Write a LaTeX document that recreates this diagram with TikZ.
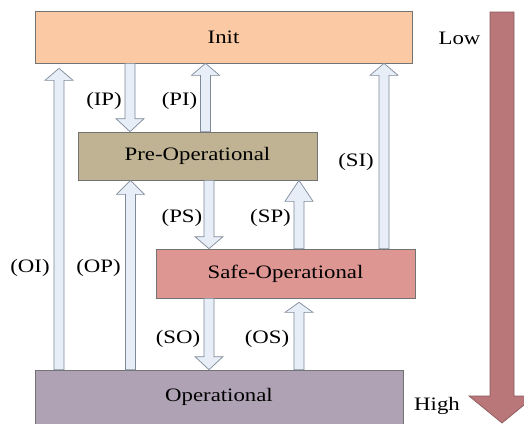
\documentclass[tikz,border=0pt]{standalone}
\usepackage{fontspec}
\setmainfont{Liberation Serif}[FakeStretch=1.2]
\usetikzlibrary{calc}

\definecolor{initfill}{HTML}{FBC9A3}
\definecolor{prefill}{HTML}{BFB393}
\definecolor{safefill}{HTML}{DE9692}
\definecolor{opfill}{HTML}{AEA2B4}
\definecolor{arrfill}{HTML}{E8EEF8}
\definecolor{arrdraw}{HTML}{7F8A99}
\definecolor{bigfill}{HTML}{B97779}
\definecolor{bigdraw}{HTML}{8B5A5C}

% hollow block arrow: [head length]{x centre}{from}{to}
\newcommand{\blkarrow}[4][12]{%
  \draw[blk] let \p1=(#3), \p2=(#4), \n1={#1*sign(\y2-\y1)} in
    ({(#2-5)*1pt},\y1) -- ({(#2-5)*1pt},\y2-\n1) -- ({(#2-14)*1pt},\y2-\n1)
    -- ({#2*1pt},\y2) -- ({(#2+14)*1pt},\y2-\n1) -- ({(#2+5)*1pt},\y2-\n1)
    -- ({(#2+5)*1pt},\y1) -- cycle;}

\begin{document}
\begin{tikzpicture}[x=1pt, y=1pt,
  state/.style={draw=black!55, line width=0.7pt, inner sep=0pt, font=\fontsize{19}{21}\selectfont},
  blk/.style={draw=arrdraw, fill=arrfill, line width=0.7pt, line join=miter},
  lbl/.style={inner sep=0pt, font=\fontsize{19}{21}\selectfont}]
  \useasboundingbox (0,0) rectangle (524,-423);
  \clip (0,0) rectangle (524,-423);
  \fill[white] (0,0) rectangle (524,-423);

  \node[state, fill=initfill, minimum width=377, minimum height=52] (init) at (223.5,-37) {Init};
  \node[state, fill=prefill, minimum width=239, minimum height=48] (preop) at (197.5,-156) {Pre-Operational};
  \node[state, fill=safefill, minimum width=259, minimum height=49] (safeop) at (285.5,-273.5) {Safe-Operational};
  \node[state, fill=opfill, minimum width=368, minimum height=54] (op) at (219,-397) {Operational};

  \blkarrow{59}{op.north}{[yshift=-5pt]init.south}
  \blkarrow[13]{130}{init.south}{preop.north}
  \blkarrow{205.5}{preop.north}{init.south}
  \blkarrow{384}{safeop.north}{init.south}
  \blkarrow[14]{130.5}{op.north}{preop.south}
  \blkarrow{209}{preop.south}{safeop.north}
  \blkarrow[21]{299}{safeop.north}{preop.south}
  \blkarrow[13]{209}{safeop.south}{op.north}
  \blkarrow[10]{299}{op.north}{[yshift=-4pt]safeop.south}

  \node[lbl] (ip) at (104,-101) {(IP)};
  \node[lbl] (pi) at (179.5,-101) {(PI)};
  \node[lbl] (si) at (356,-162) {(SI)};
  \node[lbl] (ps) at (182,-218) {(PS)};
  \node[lbl] (sp) at (270.5,-218) {(SP)};
  \node[lbl] (oi) at (30,-268) {(OI)};
  \node[lbl] (opl) at (98.5,-268) {(OP)};
  \node[lbl] (so) at (178,-339) {(SO)};
  \node[lbl] (os) at (267,-339) {(OS)};

  % priority scale
  \node[lbl] (low) at (459.5,-38) {Low};
  \node[lbl] (high) at (437,-406) {High};
  \draw[draw=bigdraw, fill=bigfill, line width=0.7pt]
    (490,-12) -- (490,-396) -- (469,-396) -- (502,-423) -- (535,-396)
    -- (514,-396) -- (514,-12) -- cycle;
\end{tikzpicture}
\end{document}
